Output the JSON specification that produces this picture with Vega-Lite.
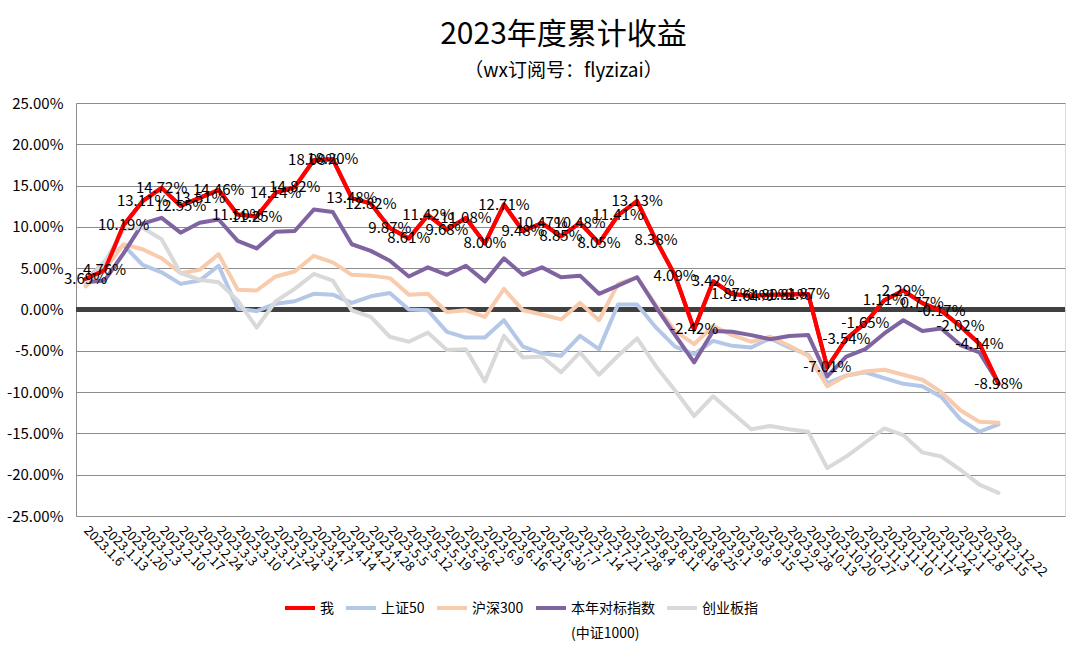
{
  "$schema": "https://vega.github.io/schema/vega-lite/v6.json",
  "width": 989,
  "height": 413,
  "autosize": {"type": "none"},
  "padding": {"left": 76, "top": 103, "right": 2, "bottom": 135},
  "background": "white",
  "config": {
    "locale": {
      "number": {"decimal": ".", "thousands": ",", "grouping": [3], "currency": ["", ""], "minus": "-"}
    }
  },
  "title": {
    "text": "2023年度累计收益",
    "subtitle": "（wx订阅号：flyzizai）",
    "frame": "group",
    "anchor": "middle",
    "dx": -7,
    "font": "Noto Sans CJK SC",
    "subtitleFont": "Noto Sans CJK SC",
    "fontSize": 30,
    "fontWeight": "normal",
    "subtitleFontSize": 19,
    "color": "#000000",
    "subtitleColor": "#000000",
    "subtitlePadding": 12,
    "offset": 15
  },
  "data": {
    "values": [
      {"d": "2023.1.6", "我": 0.0369, "上证50": 0.035, "沪深300": 0.028, "本年对标指数(中证1000)": 0.033, "创业板指": 0.032},
      {"d": "2023.1.13", "我": 0.0476, "上证50": 0.058, "沪深300": 0.048, "本年对标指数(中证1000)": 0.035, "创业板指": 0.057},
      {"d": "2023.1.20", "我": 0.1019, "上证50": 0.078, "沪深300": 0.079, "本年对标指数(中证1000)": 0.068, "创业板指": 0.097},
      {"d": "2023.2.3", "我": 0.1311, "上证50": 0.054, "沪深300": 0.073, "本年对标指数(中证1000)": 0.104, "创业板指": 0.099},
      {"d": "2023.2.10", "我": 0.1472, "上证50": 0.045, "沪深300": 0.062, "本年对标指数(中证1000)": 0.111, "创业板指": 0.085},
      {"d": "2023.2.17", "我": 0.1255, "上证50": 0.031, "沪深300": 0.044, "本年对标指数(中证1000)": 0.093, "创业板指": 0.044},
      {"d": "2023.2.24", "我": 0.1351, "上证50": 0.035, "沪深300": 0.048, "本年对标指数(中证1000)": 0.105, "创业板指": 0.036},
      {"d": "2023.3.3", "我": 0.1446, "上证50": 0.053, "沪深300": 0.067, "本年对标指数(中证1000)": 0.109, "创业板指": 0.033},
      {"d": "2023.3.10", "我": 0.115, "上证50": 0.001, "沪深300": 0.024, "本年对标指数(中证1000)": 0.083, "创业板指": 0.011},
      {"d": "2023.3.17", "我": 0.1125, "上证50": -0.002, "沪深300": 0.023, "本年对标指数(中证1000)": 0.074, "创业板指": -0.022},
      {"d": "2023.3.24", "我": 0.1414, "上证50": 0.007, "沪深300": 0.04, "本年对标指数(中证1000)": 0.094, "创业板指": 0.01},
      {"d": "2023.3.31", "我": 0.1482, "上证50": 0.01, "沪深300": 0.046, "本年对标指数(中证1000)": 0.095, "创业板指": 0.025},
      {"d": "2023.4.7", "我": 0.1808, "上证50": 0.019, "沪深300": 0.065, "本年对标指数(中证1000)": 0.121, "创业板指": 0.043},
      {"d": "2023.4.14", "我": 0.182, "上证50": 0.018, "沪深300": 0.057, "本年对标指数(中证1000)": 0.118, "创业板指": 0.035},
      {"d": "2023.4.21", "我": 0.1348, "上证50": 0.008, "沪深300": 0.042, "本年对标指数(中证1000)": 0.079, "创业板指": -0.001},
      {"d": "2023.4.28", "我": 0.1282, "上证50": 0.016, "沪深300": 0.041, "本年对标指数(中证1000)": 0.071, "创业板指": -0.009},
      {"d": "2023.5.5", "我": 0.0987, "上证50": 0.02, "沪深300": 0.038, "本年对标指数(中证1000)": 0.059, "创业板指": -0.033},
      {"d": "2023.5.12", "我": 0.0861, "上证50": 0.0, "沪深300": 0.018, "本年对标指数(中证1000)": 0.04, "创业板指": -0.039},
      {"d": "2023.5.19", "我": 0.1142, "上证50": -0.001, "沪深300": 0.019, "本年对标指数(中证1000)": 0.051, "创业板指": -0.028},
      {"d": "2023.5.26", "我": 0.0968, "上证50": -0.027, "沪深300": -0.003, "本年对标指数(中证1000)": 0.042, "创业板指": -0.049},
      {"d": "2023.6.2", "我": 0.1108, "上证50": -0.034, "沪深300": -0.001, "本年对标指数(中证1000)": 0.053, "创业板指": -0.048},
      {"d": "2023.6.9", "我": 0.08, "上证50": -0.034, "沪深300": -0.009, "本年对标指数(中证1000)": 0.034, "创业板指": -0.087},
      {"d": "2023.6.16", "我": 0.1271, "上证50": -0.013, "沪深300": 0.025, "本年对标指数(中证1000)": 0.062, "创业板指": -0.032},
      {"d": "2023.6.21", "我": 0.0948, "上证50": -0.045, "沪深300": -0.001, "本年对标指数(中证1000)": 0.042, "创业板指": -0.058},
      {"d": "2023.6.30", "我": 0.1047, "上证50": -0.053, "沪深300": -0.006, "本年对标指数(中证1000)": 0.051, "创业板指": -0.057},
      {"d": "2023.7.7", "我": 0.0885, "上证50": -0.056, "沪深300": -0.012, "本年对标指数(中证1000)": 0.039, "创业板指": -0.076},
      {"d": "2023.7.14", "我": 0.1048, "上证50": -0.032, "沪深300": 0.008, "本年对标指数(中证1000)": 0.041, "创业板指": -0.052},
      {"d": "2023.7.21", "我": 0.0805, "上证50": -0.048, "沪深300": -0.013, "本年对标指数(中证1000)": 0.019, "创业板指": -0.079},
      {"d": "2023.7.28", "我": 0.1141, "上证50": 0.006, "沪深300": 0.031, "本年对标指数(中证1000)": 0.029, "创业板指": -0.056},
      {"d": "2023.8.4", "我": 0.1313, "上证50": 0.006, "沪深300": 0.039, "本年对标指数(中证1000)": 0.039, "创业板指": -0.035},
      {"d": "2023.8.11", "我": 0.0838, "上证50": -0.022, "沪深300": 0.005, "本年对标指数(中证1000)": 0.003, "创业板指": -0.069},
      {"d": "2023.8.18", "我": 0.0409, "上证50": -0.045, "沪深300": -0.026, "本年对标指数(中证1000)": -0.031, "创业板指": -0.098},
      {"d": "2023.8.25", "我": -0.0242, "上证50": -0.054, "沪深300": -0.042, "本年对标指数(中证1000)": -0.064, "创业板指": -0.129},
      {"d": "2023.9.1", "我": 0.0342, "上证50": -0.038, "沪深300": -0.02, "本年对标指数(中证1000)": -0.026, "创业板指": -0.105},
      {"d": "2023.9.8", "我": 0.0187, "上证50": -0.044, "沪深300": -0.031, "本年对标指数(中证1000)": -0.027, "创业板指": -0.125},
      {"d": "2023.9.15", "我": 0.0164, "上证50": -0.046, "沪深300": -0.039, "本年对标指数(中证1000)": -0.031, "创业板指": -0.145},
      {"d": "2023.9.22", "我": 0.018, "上证50": -0.035, "沪深300": -0.033, "本年对标指数(中证1000)": -0.036, "创业板指": -0.141},
      {"d": "2023.9.28", "我": 0.0181, "上证50": -0.046, "沪深300": -0.044, "本年对标指数(中证1000)": -0.032, "创业板指": -0.145},
      {"d": "2023.10.13", "我": 0.0187, "上证50": -0.055, "沪深300": -0.056, "本年对标指数(中证1000)": -0.031, "创业板指": -0.148},
      {"d": "2023.10.20", "我": -0.0701, "上证50": -0.089, "沪深300": -0.093, "本年对标指数(中证1000)": -0.081, "创业板指": -0.192},
      {"d": "2023.10.27", "我": -0.0354, "上证50": -0.08, "沪深300": -0.08, "本年对标指数(中证1000)": -0.057, "创业板指": -0.178},
      {"d": "2023.11.3", "我": -0.0165, "上证50": -0.076, "沪深300": -0.075, "本年对标指数(中证1000)": -0.048, "创业板指": -0.161},
      {"d": "2023.11.10", "我": 0.0111, "上证50": -0.083, "沪深300": -0.073, "本年对标指数(中证1000)": -0.029, "创业板指": -0.144},
      {"d": "2023.11.17", "我": 0.0229, "上证50": -0.09, "沪深300": -0.079, "本年对标指数(中证1000)": -0.013, "创业板指": -0.152},
      {"d": "2023.11.24", "我": 0.0077, "上证50": -0.093, "沪深300": -0.085, "本年对标指数(中证1000)": -0.026, "创业板指": -0.173},
      {"d": "2023.12.1", "我": -0.0017, "上证50": -0.106, "沪深300": -0.1, "本年对标指数(中证1000)": -0.023, "创业板指": -0.178},
      {"d": "2023.12.8", "我": -0.0202, "上证50": -0.133, "沪深300": -0.122, "本年对标指数(中证1000)": -0.043, "创业板指": -0.194},
      {"d": "2023.12.15", "我": -0.0414, "上证50": -0.148, "沪深300": -0.136, "本年对标指数(中证1000)": -0.052, "创业板指": -0.212},
      {"d": "2023.12.22", "我": -0.0898, "上证50": -0.139, "沪深300": -0.137, "本年对标指数(中证1000)": -0.089, "创业板指": -0.222}
    ]
  },
  "transform": [
    {"fold": ["我", "上证50", "沪深300", "本年对标指数(中证1000)", "创业板指"], "as": ["s", "v"]}
  ],
  "layer": [
    {
      "mark": {"type": "rule", "color": "#404040", "strokeWidth": 4},
      "encoding": {"y": {"datum": 0, "type": "quantitative"}}
    },
    {
      "mark": {"type": "line", "strokeWidth": 4, "strokeJoin": "round", "strokeCap": "round"},
      "encoding": {
        "x": {
          "field": "d",
          "type": "ordinal",
          "scale": {
            "type": "point",
            "padding": 0.5,
            "domain": ["2023.1.6", "2023.1.13", "2023.1.20", "2023.2.3", "2023.2.10", "2023.2.17", "2023.2.24", "2023.3.3", "2023.3.10", "2023.3.17", "2023.3.24", "2023.3.31", "2023.4.7", "2023.4.14", "2023.4.21", "2023.4.28", "2023.5.5", "2023.5.12", "2023.5.19", "2023.5.26", "2023.6.2", "2023.6.9", "2023.6.16", "2023.6.21", "2023.6.30", "2023.7.7", "2023.7.14", "2023.7.21", "2023.7.28", "2023.8.4", "2023.8.11", "2023.8.18", "2023.8.25", "2023.9.1", "2023.9.8", "2023.9.15", "2023.9.22", "2023.9.28", "2023.10.13", "2023.10.20", "2023.10.27", "2023.11.3", "2023.11.10", "2023.11.17", "2023.11.24", "2023.12.1", "2023.12.8", "2023.12.15", "2023.12.22", " ", "  ", "   "]
          },
          "axis": {
            "title": null,
            "domain": false,
            "ticks": false,
            "grid": false,
            "labelAngle": 45,
            "labelAlign": "left",
            "labelBaseline": "middle",
            "labelPadding": 12,
            "labelFont": "Noto Sans CJK SC",
            "labelFontSize": 13,
            "labelColor": "#000000",
            "labelOverlap": false
          }
        },
        "y": {
          "field": "v",
          "type": "quantitative",
          "scale": {"domain": [-0.25, 0.25], "nice": false},
          "axis": {
            "title": null,
            "format": ".2%",
            "values": [-0.25, -0.2, -0.15, -0.1, -0.05, 0, 0.05, 0.1, 0.15, 0.2, 0.25],
            "grid": true,
            "gridColor": "#8c8c8c",
            "gridWidth": 1,
            "domainColor": "#8c8c8c",
            "ticks": false,
            "labelPadding": 13,
            "labelFont": "Noto Sans CJK SC",
            "labelFontSize": 15,
            "labelColor": "#000000"
          }
        },
        "color": {
          "field": "s",
          "type": "nominal",
          "scale": {
            "domain": ["我", "上证50", "沪深300", "本年对标指数(中证1000)", "创业板指"],
            "range": ["#ff0000", "#b4c7e7", "#f8cbad", "#8064a2", "#d9d9d9"]
          },
          "legend": {
            "title": null,
            "orient": "none",
            "direction": "horizontal",
            "columns": 5,
            "legendX": 207,
            "legendY": 488,
            "padding": 0,
            "symbolType": "stroke",
            "symbolSize": 900,
            "symbolStrokeWidth": 4,
            "labelFont": "Noto Sans CJK SC",
            "labelFontSize": 14,
            "labelColor": "#000000",
            "labelOffset": 3,
            "columnPadding": 4,
            "labelLimit": 300,
            "labelExpr": "datum.label == '本年对标指数(中证1000)' ? ['本年对标指数', '(中证1000)'] : [datum.label, '']",
            "encoding": {
              "labels": {
                "dy": {"value": 1},
                "lineHeight": {"value": 25}
              }
            }
          }
        }
      }
    },
    {
      "transform": [{"filter": "datum.s == '我'"}],
      "mark": {"type": "line", "color": "#ff0000", "strokeWidth": 4, "strokeJoin": "round", "strokeCap": "round"},
      "encoding": {
        "x": {"field": "d", "type": "ordinal"},
        "y": {"field": "v", "type": "quantitative"}
      }
    },
    {
      "transform": [{"filter": "datum.s == '我'"}],
      "mark": {"type": "text", "font": "Noto Sans CJK SC", "fontSize": 15, "color": "#000000", "align": "center", "baseline": "middle"},
      "encoding": {
        "x": {"field": "d", "type": "ordinal"},
        "y": {"field": "v", "type": "quantitative"},
        "text": {"field": "v", "type": "quantitative", "format": ".2%"}
      }
    }
  ]
}
